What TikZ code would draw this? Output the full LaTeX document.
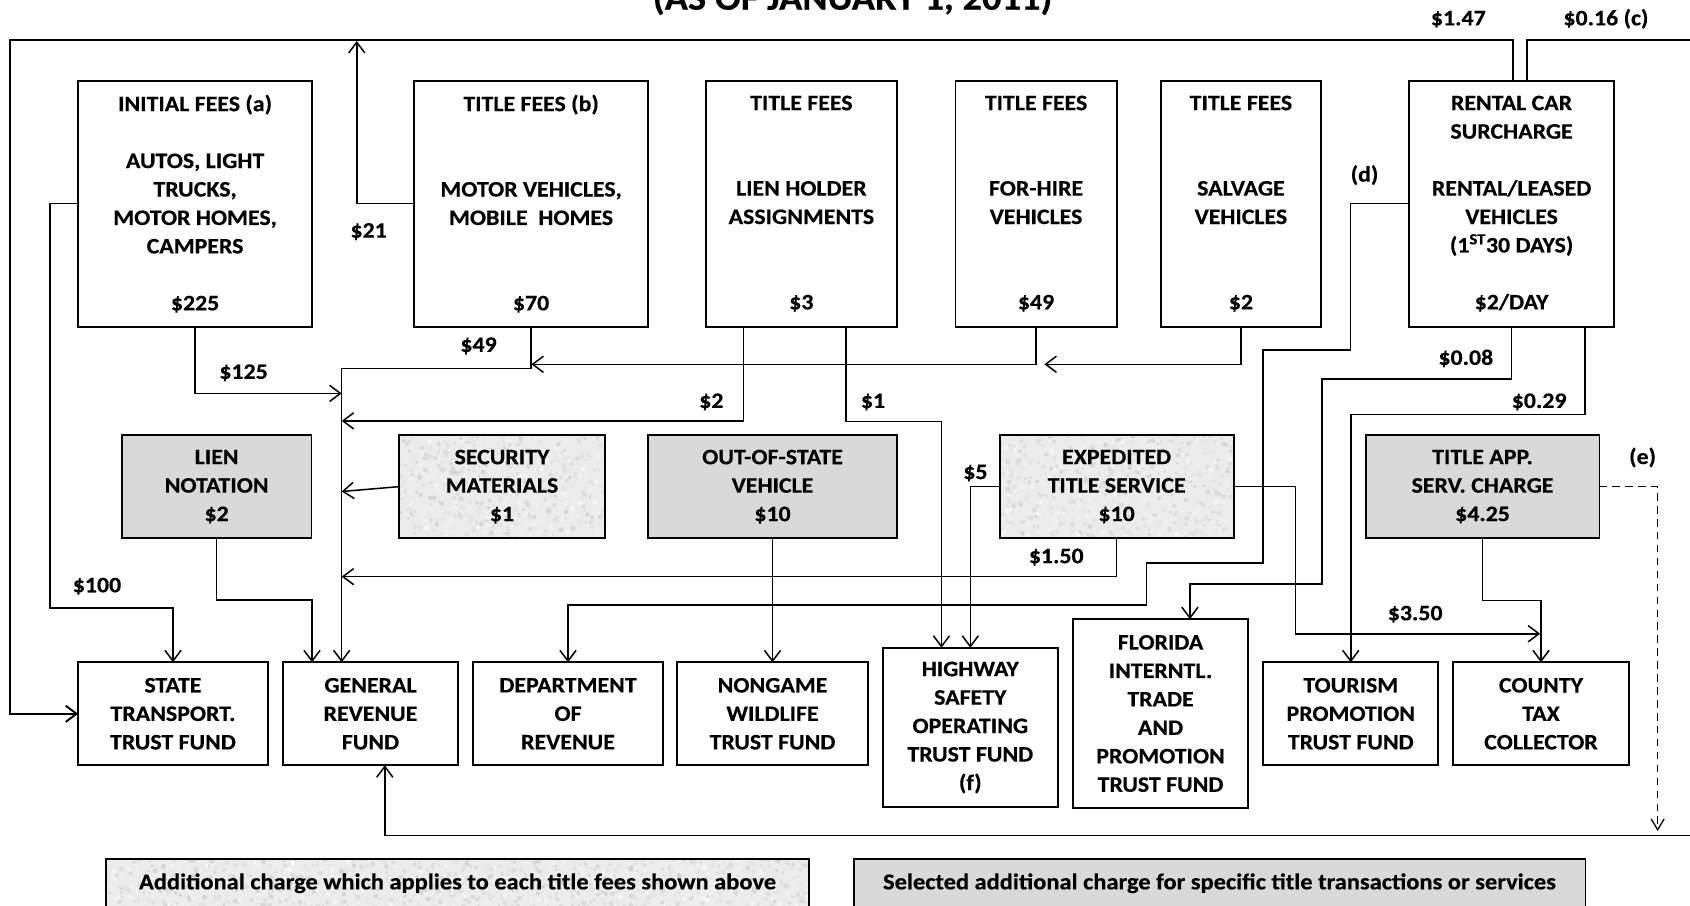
\documentclass[tikz,border=0pt]{standalone}
\usepackage{fontspec}
\usetikzlibrary{arrows.meta,calc,backgrounds}
\newfontfamily\diagfont{Carlito}[FakeStretch=1.08, FakeBold=0.4]
\definecolor{boxgray}{HTML}{D9D9D9}
\definecolor{speckbase}{HTML}{ECECEC}

% granite-like fill behind a node: base colour plus random soft specks
\newcommand\speckle[2]{%
  \path (#1.south west); \pgfgetlastxy{\spXa}{\spYa}%
  \path (#1.north east); \pgfgetlastxy{\spXb}{\spYb}%
  \fill[speckbase] (\spXa,\spYa) rectangle (\spXb,\spYb);
  \begin{scope}
    \clip (\spXa,\spYa) rectangle (\spXb,\spYb);
    \foreach \k in {1,...,#2}{%
      \pgfmathsetmacro\spx{\spXa+rnd*(\spXb-\spXa)}%
      \pgfmathsetmacro\spy{\spYa+rnd*(\spYb-\spYa)}%
      \pgfmathsetmacro\spr{0.8+1.6*rnd}%
      \pgfmathtruncatemacro\spc{24*rnd}%
      \fill[black!\spc, opacity=0.55] (\spx pt,\spy pt) circle[radius=\spr pt];
    }
  \end{scope}}

\begin{document}
\begin{tikzpicture}[x=1pt,y=-1pt,
  every node/.style={font=\diagfont\bfseries\fontsize{20.5}{26.4}\selectfont},
  box/.style={draw, line width=1.8pt, inner sep=0pt, outer sep=0pt, align=center},
  plainbox/.style={box, fill=white},
  graybox/.style={box, fill=boxgray},
  speckbox/.style={box},
  keytext/.style={font=\diagfont\bfseries\fontsize{21}{26}\selectfont},
  lbl/.style={inner sep=0pt, text height=13pt, text depth=0pt},
  link/.style={line width=1.4pt},
  conn/.style={link, -{Straight Barb[length=10pt,width=15pt]}},
  dashconn/.style={line width=1.2pt, dash pattern=on 7pt off 5pt, -{Straight Barb[length=10pt,width=12pt]}},
]
\useasboundingbox (0,0) rectangle (1568,840);

% subtitle (upper part lies above the page)
\node[anchor=base, inner sep=0pt, font=\diagfont\bfseries\fontsize{33}{40}\selectfont] (subtitle) at (791,9) {(AS OF JANUARY 1, 2011)};

% fee sources
\node[plainbox, minimum width=217pt, minimum height=228pt] (init) at (181,189)
  {INITIAL FEES (a)\\~\\AUTOS, LIGHT\\TRUCKS,\\MOTOR HOMES,\\CAMPERS\\~\\\$225};
\node[plainbox, minimum width=217.5pt, minimum height=228pt] (tfb) at (492.75,189)
  {TITLE FEES (b)\\~\\~\\MOTOR VEHICLES,\\MOBILE\ \ HOMES\\~\\~\\\$70};
\node[plainbox, minimum width=177pt, minimum height=228pt] (tfl) at (743.5,189)
  {TITLE FEES\\~\\~\\LIEN HOLDER\\ASSIGNMENTS\\~\\~\\\$3};
\node[plainbox, minimum width=149.5pt, minimum height=228pt] (tfh) at (961.25,189)
  {TITLE FEES\\~\\~\\FOR-HIRE\\VEHICLES\\~\\~\\\$49};
\node[plainbox, minimum width=148.7pt, minimum height=228pt] (tfs) at (1151.35,189)
  {TITLE FEES\\~\\~\\SALVAGE\\VEHICLES\\~\\~\\\$2};
\node[plainbox, minimum width=190pt, minimum height=228pt] (rent) at (1402.45,189)
  {RENTAL CAR\\SURCHARGE\\~\\RENTAL/LEASED\\VEHICLES\\(1\textsuperscript{ST}30 DAYS)\\~\\\$2/DAY};

% additional charges
\node[graybox, minimum width=176pt, minimum height=95pt] (lien) at (201,451.5)
  {LIEN\\NOTATION\\\$2};
\node[speckbox, minimum width=190.5pt, minimum height=95pt] (sec) at (465.75,451.5)
  {SECURITY\\MATERIALS\\\$1};
\node[graybox, minimum width=230.5pt, minimum height=95pt] (oos) at (716.75,451.5)
  {OUT-OF-STATE\\VEHICLE\\\$10};
\node[speckbox, minimum width=217pt, minimum height=95pt] (exp) at (1036,451.5)
  {EXPEDITED\\TITLE SERVICE\\\$10};
\node[graybox, minimum width=217pt, minimum height=95pt] (tapp) at (1375.5,451.5)
  {TITLE APP.\\SERV. CHARGE\\\$4.25};

% receiving funds
\node[plainbox, minimum width=176pt, minimum height=95.5pt] (stt) at (160.5,662.25)
  {STATE\\TRANSPORT.\\TRUST FUND};
\node[plainbox, minimum width=162.5pt, minimum height=95.5pt] (gr) at (343.75,662.25)
  {GENERAL\\REVENUE\\FUND};
\node[plainbox, minimum width=176pt, minimum height=95.5pt] (dor) at (527,662.25)
  {DEPARTMENT\\OF\\REVENUE};
\node[plainbox, minimum width=176.5pt, minimum height=95.5pt] (ngw) at (716.75,662.25)
  {NONGAME\\WILDLIFE\\TRUST FUND};
\node[plainbox, minimum width=162.5pt, minimum height=148pt] (hw) at (900.25,675)
  {HIGHWAY\\SAFETY\\OPERATING\\TRUST FUND\\(f)};
\node[plainbox, minimum width=162.5pt, minimum height=175pt] (fl) at (1076.75,662)
  {FLORIDA\\INTERNTL.\\TRADE\\AND\\PROMOTION\\TRUST FUND};
\node[plainbox, minimum width=162.5pt, minimum height=95.5pt] (tour) at (1253.25,662.25)
  {TOURISM\\PROMOTION\\TRUST FUND};
\node[plainbox, minimum width=163.5pt, minimum height=95.5pt] (cty) at (1429.75,662.25)
  {COUNTY\\TAX\\COLLECTOR};

% legend
\node[speckbox, keytext, minimum width=653pt, minimum height=45pt] (keyall) at (424.5,819.5)
  {Additional charge which applies to each title fees shown above};
\node[graybox, keytext, minimum width=679pt, minimum height=45pt] (keysel) at (1131.5,819.5)
  {Selected additional charge for specific title transactions or services};

% textured fills and page background
\begin{scope}[on background layer]
  \fill[white] (0,0) rectangle (1568,840);
  \pgfmathsetseed{7}
  \speckle{sec}{700}
  \speckle{exp}{800}
  \speckle{keyall}{1500}
\end{scope}

% free ends where arrows join other lines
\coordinate (top21) at (331,38);
\coordinate (trunk125) at (317,365);
\coordinate (trunk2) at (317,390.5);
\coordinate (trunksec) at (317,456);
\coordinate (trunk150) at (317,535);
\coordinate (join49) at (493,338);
\coordinate (join2) at (969,338);
\coordinate (join350) at (1429,588);
\coordinate (dashend) at (1538,771);

% connectors
\draw[conn, line width=1.8pt] ([xshift=1.5pt]rent.north) |- (9,37) |- (stt.west);
\draw[conn] ([xshift=14.5pt]rent.north) |- (1600,37) -- (1600,775) -| ([xshift=13.25pt]gr.south);
\draw[conn] (tfb.west) -| (top21);
\draw[conn] (init.west) -| (46.5,564) -| (stt.north);
\draw[conn] (init.south) |- (trunk125);
\draw[conn] (tfb.south) |- (317,342) -- ([xshift=-26.75pt]gr.north);
\draw[conn] (tfh.south) |- (join49);
\draw[conn] (tfs.south) |- (join2);
\draw[conn] ([xshift=-53.5pt]tfl.south) |- (trunk2);
\draw[conn] ([xshift=41.5pt]tfl.south) |- (873.5,391) -- ([xshift=-26.75pt]hw.north);
\draw[conn] (sec.west) -- (trunksec);
\draw[conn] (lien.south) |- (289.5,556.5) -- ([xshift=-54.25pt]gr.north);
\draw[conn] (exp.south) |- (trunk150);
\draw[conn] (exp.west) -| (hw.north);
\draw[conn] (exp.east) -| (1202,588) -- (join350);
\draw[conn] (tapp.south) |- (1429.75,557) -- (cty.north);
\draw[conn] (oos.south) -- (ngw.north);
\draw[conn] (rent.west) -| (1253,324.5) -| (1172,522.5) -| (1063.5,561.5) -| (dor.north);
\draw[conn] (rent.south) |- (1226.5,351.5) |- (1104,542) -- ([xshift=27.25pt]fl.north);
\draw[conn] ([xshift=68pt]rent.south) |- (1253.25,384.5) -- (tour.north);
\draw[dashconn] (tapp.east) -| (dashend);

% amounts on the connectors
\node[lbl] (a147) at (1353,17) {\$1.47};
\node[lbl] (a016) at (1490,17) {\$0.16 (c)};
\node[lbl] (a21) at (342,214) {\$21};
\node[lbl] (a100) at (90,543) {\$100};
\node[lbl] (a125) at (226,345) {\$125};
\node[lbl] (a49) at (444,320) {\$49};
\node[lbl] (a2) at (660,372) {\$2};
\node[lbl] (a1) at (810,372) {\$1};
\node[lbl] (a5) at (905,438) {\$5};
\node[lbl] (a150) at (980,516) {\$1.50};
\node[lbl] (a350) at (1313,569) {\$3.50};
\node[lbl] (nd) at (1266,162) {(d)};
\node[lbl] (a008) at (1360,332) {\$0.08};
\node[lbl] (a029) at (1428,372) {\$0.29};
\node[lbl] (ne) at (1524,424) {(e)};
\end{tikzpicture}
\end{document}
